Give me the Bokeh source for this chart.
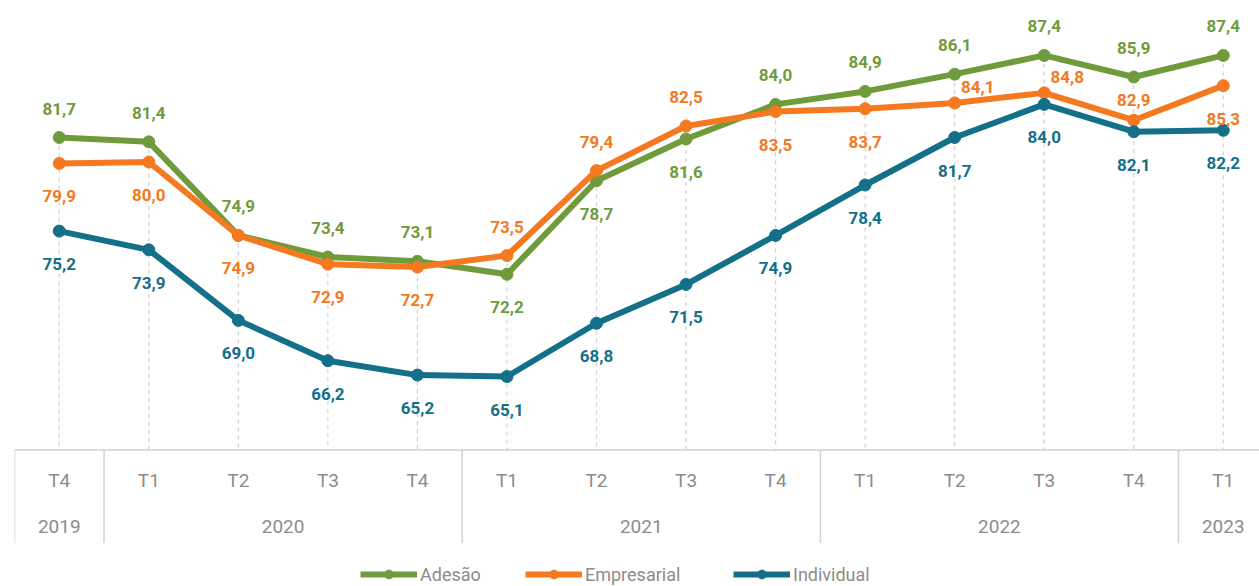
from bokeh.plotting import figure
from bokeh.models import Range1d, Span, Legend, LegendItem, ColumnDataSource
from bokeh.core.properties import value
from bokeh.embed import file_html
from bokeh.resources import INLINE

# ---------------- data ----------------
quarters = ["T4", "T1", "T2", "T3", "T4", "T1", "T2", "T3", "T4", "T1", "T2", "T3", "T4", "T1"]
years = ["2019", "2020", "2020", "2020", "2020", "2021", "2021", "2021", "2021",
         "2022", "2022", "2022", "2022", "2023"]
adesao = [81.7, 81.4, 74.9, 73.4, 73.1, 72.2, 78.7, 81.6, 84.0, 84.9, 86.1, 87.4, 85.9, 87.4]
empresarial = [79.9, 80.0, 74.9, 72.9, 72.7, 73.5, 79.4, 82.5, 83.5, 83.7, 84.1, 84.8, 82.9, 85.3]
individual = [75.2, 73.9, 69.0, 66.2, 65.2, 65.1, 68.8, 71.5, 74.9, 78.4, 81.7, 84.0, 82.1, 82.2]
series_names = ["Adesão", "Empresarial", "Individual"]

# label placement (a = above, b = below, n = above close, r = above right)
adesao_pos = ["a", "a", "a", "a", "a", "b", "b", "b", "a", "a", "a", "a", "a", "a"]
empresarial_pos = ["b", "b", "b", "b", "b", "a", "a", "a", "b", "b", "r", "r", "n", "b"]
individual_pos = ["b"] * 14

# ---------------- style ----------------
GREEN = "#709B3C"
ORANGE = "#F47920"
TEAL = "#137088"
GREY_TXT = "#8C8C8C"
GRID = "#D2D2D2"
FONT = "Roboto"
OFFS = {"a": (0, -29), "b": (0, 33), "n": (0, -20), "r": (23, -16)}
PX = 14.4      # pixels per value unit
CW = 89.54     # pixels per category

n = len(quarters)
xs = list(range(n))
BASE = 60.0

W, H, LEFT = 1259, 586, 14
p = figure(width=W, height=H, output_backend="svg", toolbar_location=None,
           x_axis_location=None, y_axis_location=None,
           x_range=Range1d(-0.5, -0.5 + (W - LEFT) / CW),
           y_range=Range1d(81.7 - (H - 137) / PX, 81.7 + 137 / PX),
           min_border_left=LEFT, min_border_right=0, min_border_top=0, min_border_bottom=0)
p.outline_line_color = None
p.xgrid.visible = False
p.ygrid.visible = False
p.background_fill_color = "white"

# dashed verticals from the highest point down to the baseline
tops = [max(a, e, i) for a, e, i in zip(adesao, empresarial, individual)]
p.segment(x0=xs, y0=tops, x1=xs, y1=[BASE] * n, line_color=GRID, line_width=1.2, line_dash="4 4")

# category table: top line, group separators, labels
p.add_layout(Span(location=BASE, dimension="width", line_color=GRID, line_width=1.5))
bounds = [-0.5] + [k - 0.5 for k in range(1, n) if years[k] != years[k - 1]]
table_bottom = BASE - 93 / PX
p.segment(x0=bounds, y0=[BASE] * len(bounds), x1=bounds, y1=[table_bottom] * len(bounds),
          line_color=GRID, line_width=1.5)

p.text(x=xs, y=[BASE - 31 / PX] * n, text=quarters, text_font=value(FONT),
       text_font_size="19px", text_color=GREY_TXT, text_align="center", text_baseline="middle")
uyears = []
for y in years:
    if y not in uyears:
        uyears.append(y)
ucent = []
for y in uyears:
    idx = [k for k in range(n) if years[k] == y]
    ucent.append(sum(idx) / len(idx))
p.text(x=ucent, y=[BASE - 77 / PX] * len(uyears), text=uyears, text_font=value(FONT),
       text_font_size="19px", text_color=GREY_TXT, text_align="center", text_baseline="middle")

# series
legend_renderers = []
for vals, col in [(adesao, GREEN), (empresarial, ORANGE), (individual, TEAL)]:
    r1 = p.line(xs, vals, line_color=col, line_width=6, line_join="round")
    r2 = p.scatter(xs, vals, size=12, fill_color=col, line_color=col)
    legend_renderers.append([r1, r2])

# value labels
for vals, col, pos in [(adesao, GREEN, adesao_pos), (empresarial, ORANGE, empresarial_pos),
                       (individual, TEAL, individual_pos)]:
    src = ColumnDataSource(dict(
        x=xs, y=vals,
        t=[f"{v:.1f}".replace(".", ",") for v in vals],
        dx=[OFFS[s][0] for s in pos],
        dy=[OFFS[s][1] for s in pos],
    ))
    p.text(x="x", y="y", text="t", x_offset="dx", y_offset="dy", source=src,
           text_font=value(FONT), text_font_style="bold", text_font_size="17px",
           text_color=col, text_align="center", text_baseline="middle")

# legends
legend_x = [346, 511, 719]
for name, rends, lx in zip(series_names, legend_renderers, legend_x):
    lg = Legend(items=[LegendItem(label=name, renderers=rends)], location=(lx, 1),
                orientation="horizontal", glyph_width=57, glyph_height=22,
                label_standoff=3, padding=0, margin=0, spacing=0,
                label_text_font=FONT, label_text_font_size="18px", label_text_color=GREY_TXT,
                border_line_alpha=0, background_fill_alpha=0)
    p.add_layout(lg)

open("out.html", "w").write(file_html(p, INLINE))
